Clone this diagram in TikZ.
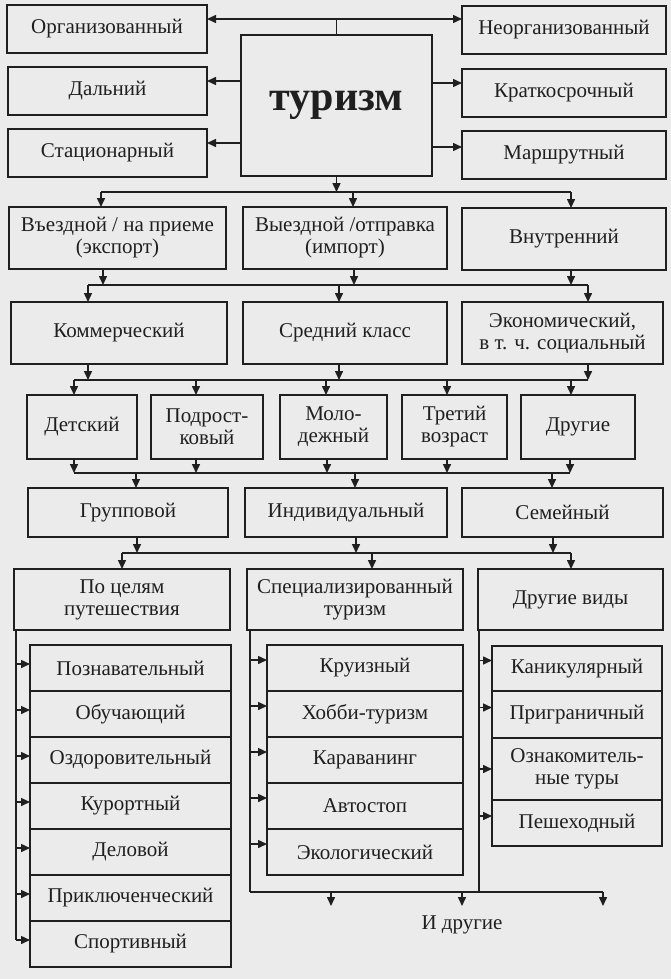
\documentclass[tikz,border=0pt]{standalone}
\usepackage{fontspec}
\setmainfont{Liberation Serif}
\usetikzlibrary{arrows.meta}
\definecolor{bgc}{HTML}{EBEBEB}
\definecolor{ink}{HTML}{1F1F1F}
\tikzset{
  box/.style={draw=ink, line width=1.5pt, anchor=north west, inner sep=0pt, outer sep=0pt,
    align=center, text=ink, font=\fontsize{21}{22}\selectfont},
  arr/.style={draw=ink, line width=1.5pt, -{Triangle[length=9pt,width=8pt]}},
  ln/.style={draw=ink, line width=1.5pt},
}
\begin{document}
\begin{tikzpicture}[x=1pt,y=-1pt]
\fill[bgc] (0,0) rectangle (671,979);
\useasboundingbox (0,0) rectangle (671,979);
% top
\node[box,minimum width=200pt,minimum height=48pt] (org) at (7,5) {Организованный};
\node[box,minimum width=204pt,minimum height=48pt] (neorg) at (462,6) {Неорганизованный};
\node[box,minimum width=199pt,minimum height=48pt] (dal) at (8,67) {Дальний};
\node[box,minimum width=204pt,minimum height=48pt] (krat) at (462,69) {Краткосрочный};
\node[box,minimum width=199pt,minimum height=48pt] (stac) at (8,129) {Стационарный};
\node[box,minimum width=204pt,minimum height=48pt] (marsh) at (462,131) {Маршрутный};
\node[box,minimum width=191pt,minimum height=141pt,font=\fontsize{42}{42}\selectfont\bfseries] (tur) at (241,35) {туризм};
% row 2
\node[box,minimum width=217pt,minimum height=62pt] (vez) at (9,207) {Въездной / на приеме\\(экспорт)};
\node[box,minimum width=204pt,minimum height=62pt] (vyz) at (243,207) {Выездной /отправка\\(импорт)};
\node[box,minimum width=204pt,minimum height=62pt] (vnu) at (462,208) {Внутренний};
% row 3
\node[box,minimum width=216pt,minimum height=62pt] (kom) at (11,302) {Коммерческий};
\node[box,minimum width=204pt,minimum height=62pt] (sre) at (243,302) {Средний класс};
\node[box,minimum width=201pt,minimum height=62pt] (eco) at (462,302) {Экономический,\\в т. ч. социальный};
% row 4
\node[box,minimum width=110pt,minimum height=64pt] (det) at (27,395) {Детский};
\node[box,minimum width=112pt,minimum height=64pt] (pod) at (151,395) {Подрост-\\ковый};
\node[box,minimum width=107pt,minimum height=64pt] (mol) at (280,395) {Моло-\\дежный};
\node[box,minimum width=105pt,minimum height=64pt] (tre) at (402,395) {Третий\\возраст};
\node[box,minimum width=114pt,minimum height=64pt] (dru) at (521,395) {Другие};
% row 5
\node[box,minimum width=200pt,minimum height=49pt] (grp) at (28,488) {Групповой};
\node[box,minimum width=202pt,minimum height=49pt] (ind) at (245,488) {Индивидуальный};
\node[box,minimum width=201pt,minimum height=49pt] (sem) at (462,488) {Семейный};
% row 6
\node[box,minimum width=216pt,minimum height=61pt] (cel) at (14,569) {По целям\\путешествия};
\node[box,minimum width=216pt,minimum height=61pt] (spe) at (247,569) {Специализированный\\туризм};
\node[box,minimum width=185pt,minimum height=61pt] (drv) at (478,569) {Другие виды};
% left list
\foreach \t [count=\i from 0] in {Познавательный,Обучающий,Оздоровительный,Курортный,Деловой,Приключенческий,Спортивный}
  \node[box,minimum width=201pt,minimum height=46pt] (p\i) at (30,645+46*\i) {\t};
% middle list
\foreach \t [count=\i from 0] in {Круизный,Хобби-туризм,Караванинг,Автостоп,Экологический}
  \node[box,minimum width=196pt,minimum height=46pt] (m\i) at (267,645+46*\i) {\t};
% right list
\node[box,minimum width=170pt,minimum height=45pt] (r0) at (492,646) {Каникулярный};
\node[box,minimum width=170pt,minimum height=47pt] (r1) at (492,691) {Приграничный};
\node[box,minimum width=170pt,minimum height=62pt] (r2) at (492,738) {Ознакомитель-\\ные туры};
\node[box,minimum width=170pt,minimum height=46pt] (r3) at (492,800) {Пешеходный};
\node[text=ink,font=\fontsize{21}{22}\selectfont,inner sep=0pt] (idr) at (462,925) {И другие};

% ---- connectors: top
\coordinate (j0) at (tur.north |- 0,19);
\draw[ln] (tur.north) -- (j0);
\draw[arr] (j0) -- (j0 -| org.east);
\draw[arr] (j0) -- (j0 -| neorg.west);
\path ([yshift=10pt]dal.east) coordinate (dl) ([yshift=10pt]stac.east) coordinate (sl)
      ([yshift=10pt]krat.west) coordinate (kl) ([yshift=8pt]marsh.west) coordinate (ml);
\draw[arr] (dl -| tur.west) -- (dl);
\draw[arr] (sl -| tur.west) -- (sl);
\draw[arr] (kl -| tur.east) -- (kl);
\draw[arr] (ml -| tur.east) -- (ml);

% bus 1
\coordinate (b1) at (tur.south |- 0,192);
\coordinate (b1a) at (101,192); \coordinate (b1b) at (353,192); \coordinate (b1c) at (571,192);
\draw[arr] (tur.south) -- (b1);
\draw[ln] (b1a) -- (b1c);
\draw[arr] (b1a) -- (b1a |- vez.north);
\draw[arr] (b1b) -- (b1b |- vyz.north);
\draw[arr] (b1c) -- (b1c |- vnu.north);

% bus 2
\coordinate (i2a) at (103,285); \coordinate (i2b) at (354,285); \coordinate (i2c) at (571,285);
\coordinate (b2a) at (88,285); \coordinate (b2b) at (339,285); \coordinate (b2c) at (588,285);
\draw[arr] (i2a |- vez.south) -- (i2a);
\draw[arr] (i2b |- vyz.south) -- (i2b);
\draw[arr] (i2c |- vnu.south) -- (i2c);
\draw[ln] (b2a) -- (b2c);
\draw[arr] (b2a) -- (b2a |- kom.north);
\draw[arr] (b2b) -- (b2b |- sre.north);
\draw[arr] (b2c) -- (b2c |- eco.north);

% bus 3
\coordinate (i3a) at (88,380); \coordinate (i3b) at (339,380); \coordinate (i3c) at (588,380);
\draw[arr] (i3a |- kom.south) -- (i3a);
\draw[arr] (i3b |- sre.south) -- (i3b);
\draw[arr] (i3c |- eco.south) -- (i3c);
\coordinate (b3a) at (74,380); \coordinate (b3b) at (196,380); \coordinate (b3c) at (326,380);
\coordinate (b3d) at (447,380); \coordinate (b3e) at (571,380);
\draw[ln] (b3a) -- (i3c);
\draw[arr] (b3a) -- (b3a |- det.north);
\draw[arr] (b3b) -- (b3b |- pod.north);
\draw[arr] (b3c) -- (b3c |- mol.north);
\draw[arr] (b3d) -- (b3d |- tre.north);
\draw[arr] (b3e) -- (b3e |- dru.north);

% bus 4
\coordinate (i4a) at (74,473); \coordinate (i4b) at (196,473); \coordinate (i4c) at (327,473);
\coordinate (i4d) at (447,473); \coordinate (i4e) at (570,473);
\draw[arr] (i4a |- det.south) -- (i4a);
\draw[arr] (i4b |- pod.south) -- (i4b);
\draw[arr] (i4c |- mol.south) -- (i4c);
\draw[arr] (i4d |- tre.south) -- (i4d);
\draw[arr] (i4e |- dru.south) -- (i4e);
\draw[ln] (i4a) -- (i4e);
\coordinate (b4a) at (136,473); \coordinate (b4b) at (355,473); \coordinate (b4c) at (552,473);
\draw[arr] (b4a) -- (b4a |- grp.north);
\draw[arr] (b4b) -- (b4b |- ind.north);
\draw[arr] (b4c) -- (b4c |- sem.north);

% bus 5
\coordinate (i5a) at (137,553); \coordinate (i5b) at (356,553); \coordinate (i5c) at (553,553);
\draw[arr] (i5a |- grp.south) -- (i5a);
\draw[arr] (i5b |- ind.south) -- (i5b);
\draw[arr] (i5c |- sem.south) -- (i5c);
\coordinate (b5a) at (122,553); \coordinate (b5b) at (372,553); \coordinate (b5c) at (571,553);
\draw[ln] (b5a) -- (b5c);
\draw[arr] (b5a) -- (b5a |- cel.north);
\draw[arr] (b5b) -- (b5b |- spe.north);
\draw[arr] (b5c) -- (b5c |- drv.north);

% left list
\coordinate (lv) at (16,940);
\draw[ln] (lv |- cel.south) -- (lv);
\foreach \i in {0,...,6} {
  \path ([yshift=4pt]p\i.west) coordinate (pa);
  \draw[arr] (pa -| lv) -- (pa);
}
% middle list
\coordinate (mv) at (250,892);
\draw[ln] (mv |- spe.south) -- (mv);
\foreach \i in {0,...,4} {
  \path ([yshift=8pt]m\i.west) coordinate (ma);
  \draw[arr] (ma -| mv) -- (ma);
}
% right list
\coordinate (rv) at (479,892);
\draw[ln] (rv |- drv.south) -- (rv);
\foreach \i/\s in {0/8,1/7,2/0,3/7} {
  \path ([yshift=\s pt]r\i.west) coordinate (ra);
  \draw[arr] (ra -| rv) -- (ra);
}
% bottom bus
\coordinate (e1) at (331,906); \coordinate (e2) at (462,906); \coordinate (e3) at (603,906);
\draw[ln] (mv) -- (e3 |- mv);
\draw[arr] (e1 |- mv) -- (e1);
\draw[arr] (e2 |- mv) -- (e2);
\draw[arr] (e3 |- mv) -- (e3);
\end{tikzpicture}
\end{document}
